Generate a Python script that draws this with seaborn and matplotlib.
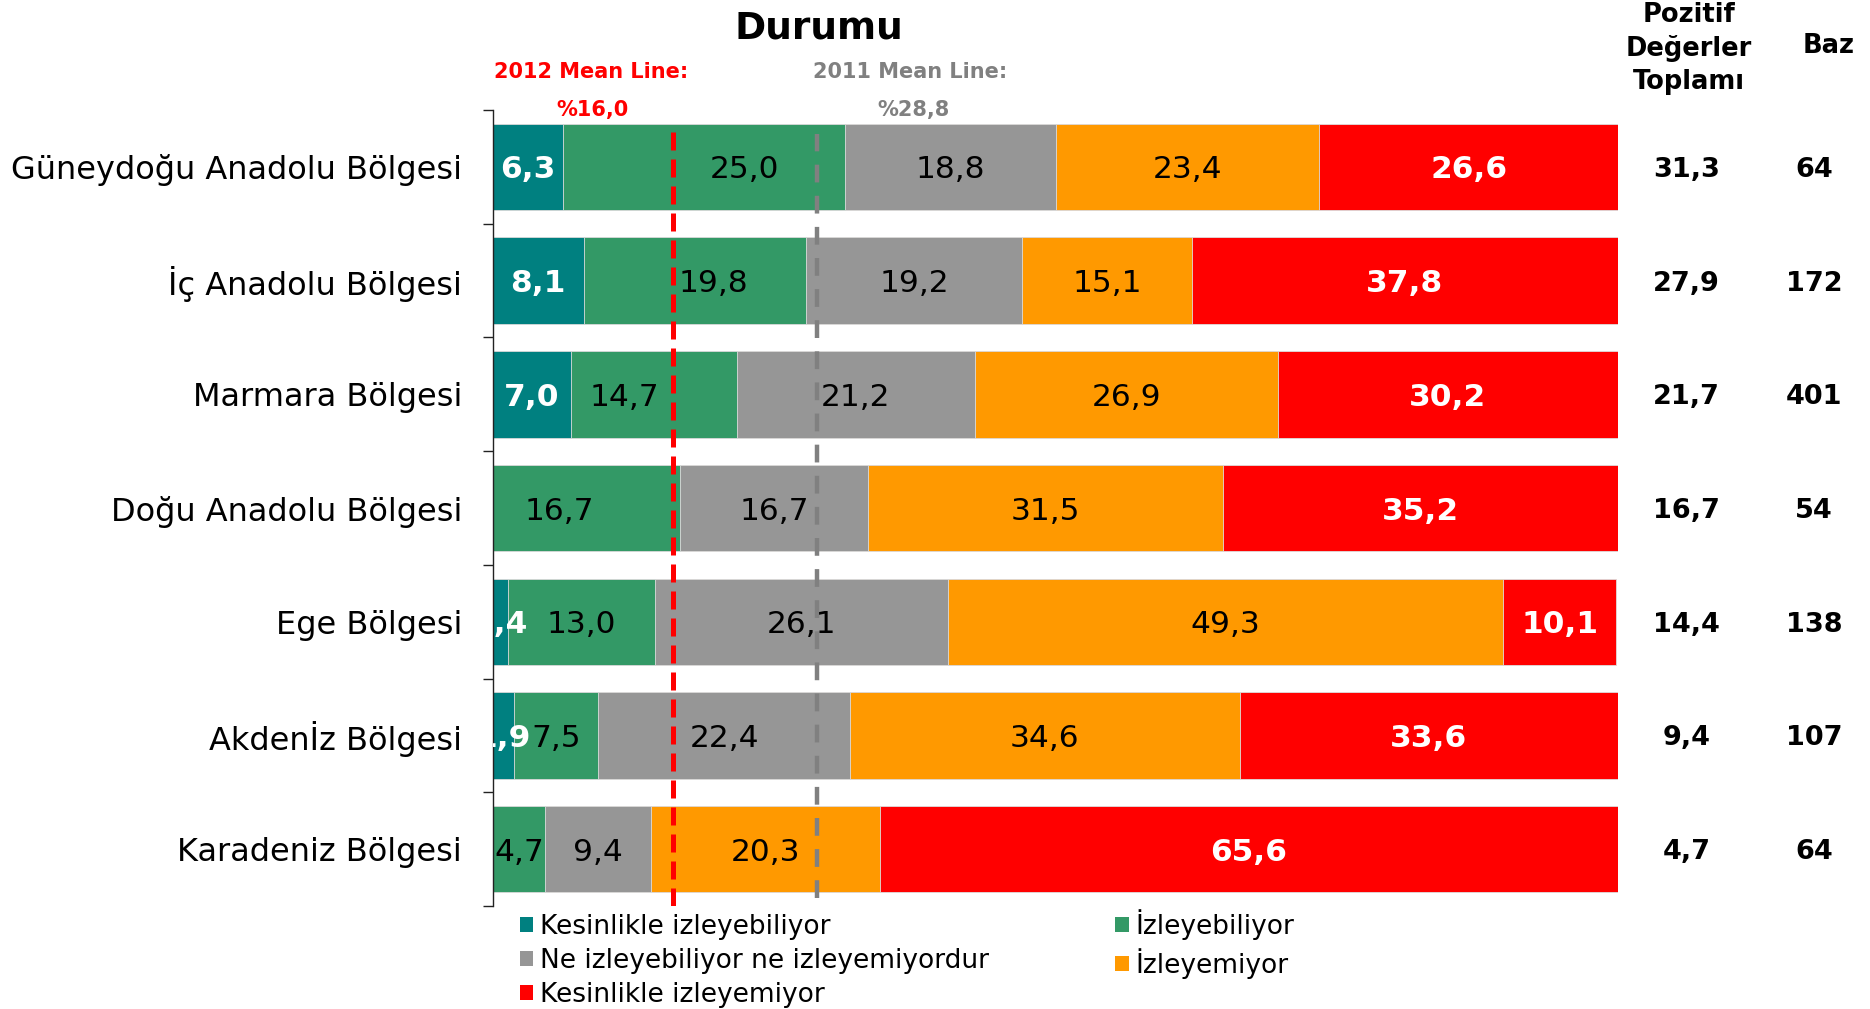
import numpy as np
import matplotlib
matplotlib.use("Agg")
import matplotlib.pyplot as plt
import matplotlib.transforms as mtrans
from matplotlib.patches import Patch
import seaborn as sns

regions = ["Güneydoğu Anadolu Bölgesi", "İç Anadolu Bölgesi", "Marmara Bölgesi",
           "Doğu Anadolu Bölgesi", "Ege Bölgesi", "Akdenİz Bölgesi", "Karadeniz Bölgesi"]
kesin_izleyebiliyor = [6.3, 8.1, 7.0, 0.0, 1.4, 1.9, 0.0]
izleyebiliyor = [25.0, 19.8, 14.7, 16.7, 13.0, 7.5, 4.7]
ne_ne = [18.8, 19.2, 21.2, 16.7, 26.1, 22.4, 9.4]
izleyemiyor = [23.4, 15.1, 26.9, 31.5, 49.3, 34.6, 20.3]
kesin_izleyemiyor = [26.6, 37.8, 30.2, 35.2, 10.1, 33.6, 65.6]
pozitif = [31.3, 27.9, 21.7, 16.7, 14.4, 9.4, 4.7]
baz = [64, 172, 401, 54, 138, 107, 64]
mean_2012 = 16.0
mean_2011 = 28.8

series_names = ["Kesinlikle izleyebiliyor", "İzleyebiliyor", "Ne izleyebiliyor ne izleyemiyordur",
                "İzleyemiyor", "Kesinlikle izleyemiyor"]
colors = ["#008080", "#339966", "#969696", "#FF9900", "#FF0000"]

# a few labels were pushed sideways in the original (series, row) -> shift in axis units
label_nudge = {(1, 0): 3.6, (1, 1): 1.6, (1, 2): -2.6, (1, 3): -2.4}

sns.set_style("white")
plt.rcParams["font.family"] = ["DejaVu Sans"]
plt.rcParams["text.color"] = "black"
plt.rcParams["ytick.labelcolor"] = "black"

vals = np.array([kesin_izleyebiliyor, izleyebiliyor, ne_ne, izleyemiyor, kesin_izleyemiyor])
cum = np.cumsum(vals, axis=0)

fig = plt.figure(figsize=(18.7, 10.09), dpi=100)
ax = fig.add_axes([0.2634, 0.102, 0.6016, 0.789])

# stacked bars: draw the running totals from the longest down
for i in reversed(range(5)):
    sns.barplot(x=cum[i], y=regions, color=colors[i], saturation=1, width=0.76,
                edgecolor="#dddddd", linewidth=0.6, ax=ax)

for i in range(5):
    for r in range(len(regions)):
        v = vals[i, r]
        if v <= 0:
            continue
        strong = i in (0, 4)
        ax.text(cum[i, r] - v / 2 + label_nudge.get((i, r), 0), r, f"{v:.1f}".replace(".", ","),
                ha="center", va="center_baseline", fontsize=22.5,
                color="white" if strong else "black",
                fontweight="bold" if strong else "normal", clip_on=True, zorder=5)

ax.axvline(mean_2012, ymin=0, ymax=0.975, color="#FF0000", lw=3.6, ls=(0, (3.6, 1.8)), zorder=4)
ax.axvline(mean_2011, ymin=0.01, ymax=0.97, color="#808080", lw=3.2, ls=(0, (4.0, 3.0)), zorder=4)

ax.set_xlim(0, 100)
ax.set_ylim(len(regions) - 0.5, -0.5)
ax.set_xticks([])
ax.set_xlabel("")
ax.set_ylabel("")
ax.set_yticks(range(len(regions)))
ax.set_yticklabels(regions, fontsize=23)
ax.set_yticks(np.arange(-0.5, len(regions)), minor=True)
ax.tick_params(axis="y", which="major", length=0, pad=22)
ax.tick_params(axis="y", which="minor", length=7, width=1, color="#222222", direction="out", left=True)
for s in ["top", "right", "bottom"]:
    ax.spines[s].set_visible(False)
ax.spines["left"].set_color("#222222")
ax.spines["left"].set_linewidth(1)

# right-hand columns
tr = mtrans.blended_transform_factory(fig.transFigure, ax.transData)
for r in range(len(regions)):
    ax.text(0.902, r, f"{pozitif[r]:.1f}".replace(".", ","), transform=tr,
            ha="center", va="center_baseline", fontsize=19.5, fontweight="bold", clip_on=False)
    ax.text(0.970, r, str(baz[r]), transform=tr,
            ha="center", va="center_baseline", fontsize=19.5, fontweight="bold", clip_on=False)
fig.text(0.903, 0.952, "Pozitif\nDeğerler\nToplamı", ha="center", va="center",
         fontsize=18.5, fontweight="bold", linespacing=1.36)
fig.text(0.978, 0.954, "Baz", ha="center", va="center", fontsize=18.5, fontweight="bold")

fig.text(0.438, 0.972, "Durumu", ha="center", va="center", fontsize=27, fontweight="bold")

fig.text(0.264, 0.929, "2012 Mean Line:", ha="left", va="center", fontsize=15,
         fontweight="bold", color="#FF0000")
fig.text(0.317, 0.891, "%16,0", ha="center", va="center", fontsize=15,
         fontweight="bold", color="#FF0000")
fig.text(0.435, 0.929, "2011 Mean Line:", ha="left", va="center", fontsize=15,
         fontweight="bold", color="#808080")
fig.text(0.4885, 0.891, "%28,8", ha="center", va="center", fontsize=15,
         fontweight="bold", color="#808080")

handles = [Patch(facecolor=c, edgecolor="none") for c in colors]
order = [0, 2, 4, 1, 3]
fig.legend([handles[k] for k in order], [series_names[k] for k in order],
           loc="upper left", bbox_to_anchor=(0.271, 0.112), ncol=2, frameon=False,
           prop={"size": 19}, handlelength=0.5, handleheight=0.5,
           handletextpad=0.25, columnspacing=4.8, labelspacing=0.3, borderpad=0)

fig.savefig("out.png", dpi=100)
